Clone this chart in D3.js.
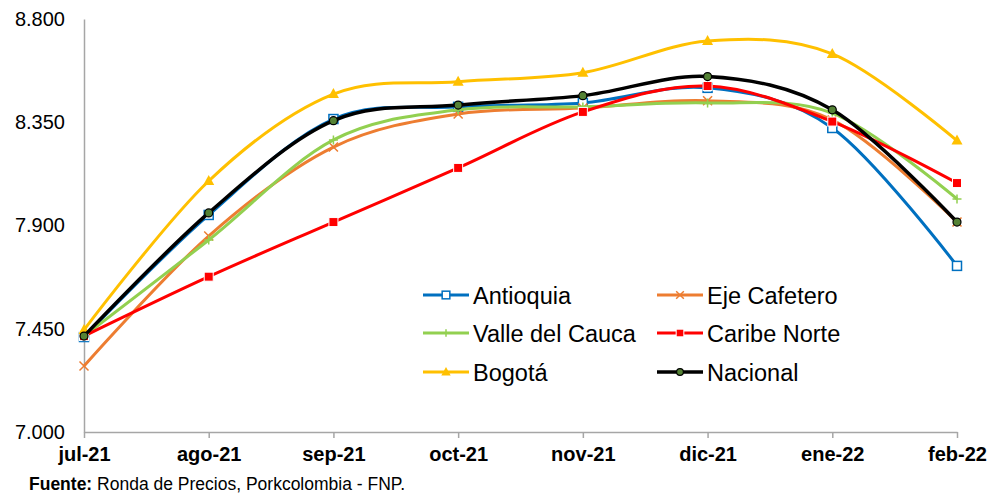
<!DOCTYPE html>
<html>
<head>
<meta charset="utf-8">
<script src="https://cdn.jsdelivr.net/npm/d3@7"></script>
<style>
  body { margin: 0; background: #fff; }
  text { font-family: "Liberation Sans", Arial, sans-serif; }
</style>
</head>
<body>
<svg id="chart"></svg>
<script>
const months = ["jul-21", "ago-21", "sep-21", "oct-21", "nov-21", "dic-21", "ene-22", "feb-22"];
const yTicks = [7000, 7450, 7900, 8350, 8800];

const antioquia = [7414, 7946, 8364, 8417, 8434, 8500, 8325, 7724];
const ejeCafetero = [7288, 7854, 8242, 8386, 8412, 8444, 8360, 7915];
const valleCauca = [7418, 7837, 8273, 8404, 8417, 8434, 8390, 8016];
const caribeNorte = [7418, 7677, 7915, 8151, 8395, 8508, 8353, 8085];
const bogota = [7445, 8094, 8473, 8527, 8566, 8704, 8648, 8270];
const nacional = [7418, 7955, 8357, 8425, 8466, 8549, 8404, 7915];

const series = [
  { name: "Antioquia", values: antioquia, color: "#0070C0", marker: "openSquare" },
  { name: "Eje Cafetero", values: ejeCafetero, color: "#ED7D31", marker: "x" },
  { name: "Valle del Cauca", values: valleCauca, color: "#92D050", marker: "plus" },
  { name: "Caribe Norte", values: caribeNorte, color: "#FF0000", marker: "square" },
  { name: "Bogotá", values: bogota, color: "#FFC000", marker: "triangle" },
  { name: "Nacional", values: nacional, color: "#000000", marker: "circle" }
];

var w = 989;
var h = 493;

const svg = d3.select("#chart").attr("width", w).attr("height", h);

var x = d3.scalePoint().domain(months).range([84, 957]);
var y = d3.scaleLinear().domain([7000, 8800]).range([432, 19]);

const fmt = v => d3.format(",.0f")(v).replace(/,/g, ".");

// y axis
const yAxis = svg.append("g")
  .attr("transform", "translate(84,0)")
  .call(d3.axisLeft(y).tickValues(yTicks).tickSize(0).tickPadding(19).tickFormat(fmt));
yAxis.select(".domain").attr("stroke", "#A6A6A6").attr("stroke-width", 1.5);
yAxis.selectAll("text").attr("font-size", 20).attr("fill", "#000");

// x axis
const xAxis = svg.append("g")
  .attr("transform", "translate(0,432)")
  .call(d3.axisBottom(x).tickSize(6).tickPadding(9).tickSizeOuter(0));
xAxis.select(".domain").attr("stroke", "#A6A6A6").attr("stroke-width", 1.5);
xAxis.selectAll(".tick line").attr("stroke", "#A6A6A6").attr("stroke-width", 1.5);
xAxis.selectAll("text").attr("font-size", 20).attr("font-weight", "bold").attr("fill", "#000");

const line = d3.line()
  .x((d, i) => x(months[i]))
  .y(d => y(d))
  .curve(d3.curveCatmullRom.alpha(0));

const drawMarker = (g, type, color, cx, cy, k = 1) => {
  const s = 4.5 * k;
  if (type === "openSquare") {
    g.append("rect").attr("x", cx - s).attr("y", cy - s).attr("width", 2 * s).attr("height", 2 * s)
      .attr("fill", "#fff").attr("stroke", color).attr("stroke-width", 1.5);
  } else if (type === "square") {
    g.append("rect").attr("x", cx - s).attr("y", cy - s).attr("width", 2 * s).attr("height", 2 * s)
      .attr("fill", color).attr("stroke", "#fff").attr("stroke-width", 1);
  } else if (type === "x") {
    g.append("path").attr("d", `M${cx - s},${cy - s}L${cx + s},${cy + s}M${cx - s},${cy + s}L${cx + s},${cy - s}`)
      .attr("stroke", color).attr("stroke-width", 1.5);
  } else if (type === "plus") {
    g.append("path").attr("d", `M${cx - s},${cy}L${cx + s},${cy}M${cx},${cy - s}L${cx},${cy + s}`)
      .attr("stroke", color).attr("stroke-width", 1.5);
  } else if (type === "triangle") {
    g.append("path").attr("d", `M${cx},${cy - 6 * k}L${cx + 5.5 * k},${cy + 4 * k}L${cx - 5.5 * k},${cy + 4 * k}Z`)
      .attr("fill", color);
  } else if (type === "circle") {
    g.append("circle").attr("cx", cx).attr("cy", cy).attr("r", 4 * k)
      .attr("fill", "#548235").attr("stroke", "#000").attr("stroke-width", 1.2);
  }
};

series.forEach(s => {
  const g = svg.append("g");
  g.append("path")
    .datum(s.values)
    .attr("d", line)
    .attr("fill", "none")
    .attr("stroke", s.color)
    .attr("stroke-width", s.name === "Nacional" ? 3.5 : 3)
    .attr("stroke-linejoin", "round");
  s.values.forEach((v, i) => drawMarker(g, s.marker, s.color, x(months[i]), y(v)));
});

// legend
const legendPos = [[423, 295], [657, 295], [423, 333], [657, 333], [423, 372], [657, 372]];
series.forEach((s, i) => {
  const [lx, ly] = legendPos[i];
  const g = svg.append("g");
  g.append("line").attr("x1", lx).attr("x2", lx + 46).attr("y1", ly).attr("y2", ly)
    .attr("stroke", s.color).attr("stroke-width", s.name === "Nacional" ? 3.5 : 3);
  drawMarker(g, s.marker, s.color, lx + 23, ly, 0.85);
  g.append("text").attr("x", lx + 50).attr("y", ly + 8.5)
    .attr("font-size", 23.5).attr("fill", "#000").text(s.name);
});

// source note
const note = svg.append("text").attr("x", 29).attr("y", 490).attr("font-size", 17.5).attr("fill", "#000");
note.append("tspan").attr("font-weight", "bold").text("Fuente:");
note.append("tspan").text(" Ronda de Precios, Porkcolombia - FNP.");
</script>
</body>
</html>
